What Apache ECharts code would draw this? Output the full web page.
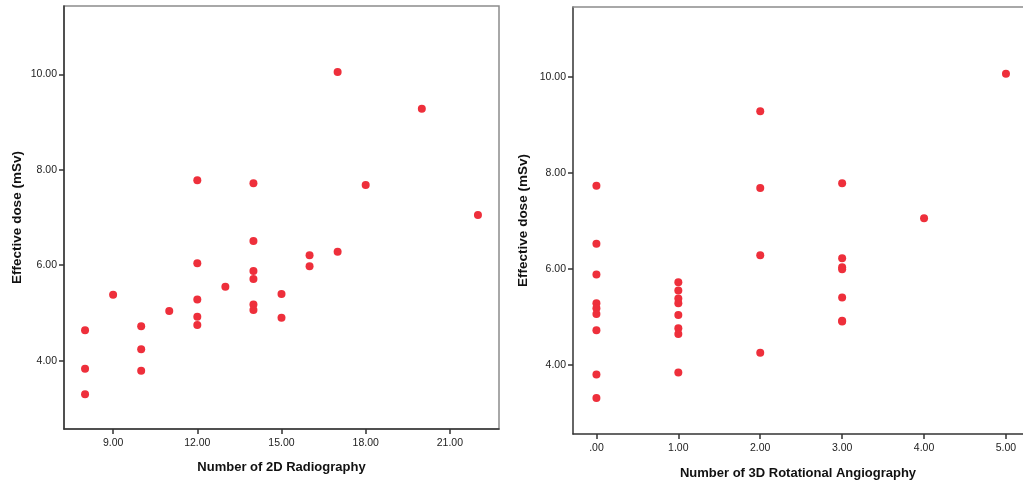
<!DOCTYPE html>
<html>
<head>
<meta charset="utf-8">
<script src="https://cdn.jsdelivr.net/npm/echarts@6/dist/echarts.min.js"></script>
<style>html,body{margin:0;padding:0;background:#fff;}#c{width:1023px;height:483px;}</style>
</head>
<body>
<div id="c"></div>
<script>
// Left panel: Number of 2D Radiography vs Effective dose
const radiography2D = [17,20,12,14,18,22,14,16,17,12,16,14,14,13,9,15,12,11,14,14,15,12,12,8,10,10,10,8,8];
const dose2D = [10.05,9.28,7.78,7.72,7.68,7.05,6.51,6.21,6.28,6.04,5.98,5.88,5.71,5.55,5.38,5.40,5.28,5.04,5.18,5.06,4.90,4.92,4.75,4.64,4.72,4.24,3.79,3.83,3.30];
// Right panel: Number of 3D Rotational Angiography vs Effective dose
const rotational3D = [0,0,0,0,0,0,0,0,0, 1,1,1,1,1,1,1,1, 2,2,2,2, 3,3,3,3,3,3,3, 4, 5];
const dose3D = [7.73,6.52,5.88,5.28,5.18,5.06,4.72,3.80,3.31, 5.72,5.55,5.38,5.28,5.04,4.76,4.64,3.84, 9.28,7.68,6.28,4.25, 7.78,6.22,6.03,5.99,5.40,4.92,4.90, 7.05, 10.06];
// Tick labels
const xTicks2D = [9,12,15,18,21];
const xTicks3D = [0,1,2,3,4,5];
const yTicks = [4,6,8,10];

const fmt = v => (v === 0 ? '.00' : Number(v).toFixed(2));
const FONT = 'Liberation Sans, Arial, sans-serif';
const RED = '#ee2f3b';

function xAxis(idx, min, max, ticks, name, gap) {
  return {
    type: 'value', gridIndex: idx, min: min, max: max,
    name: name, nameLocation: 'middle', nameGap: gap,
    nameTextStyle: {fontFamily: FONT, fontWeight: 'bold', fontSize: 13, color: '#111'},
    axisLine: {show: true, onZero: false, lineStyle: {color: '#333', width: 1.5}},
    axisTick: {show: true, length: 5, customValues: ticks, lineStyle: {color: '#333', width: 1.5}},
    axisLabel: {customValues: ticks, formatter: fmt, fontFamily: FONT, fontSize: 10.5, color: '#222', margin: 9},
    splitLine: {show: false}
  };
}
function topLine(idx, min, max) {
  return {
    type: 'value', gridIndex: idx, min: min, max: max, position: 'top',
    axisLine: {show: true, onZero: false, lineStyle: {color: '#8c8c8c', width: 1.5}},
    axisTick: {show: false}, axisLabel: {show: false}, splitLine: {show: false}
  };
}
function yAxis(idx, min, max, gap) {
  return {
    type: 'value', gridIndex: idx, min: min, max: max,
    name: 'Effective dose (mSv)', nameLocation: 'middle', nameGap: gap,
    nameTextStyle: {fontFamily: FONT, fontWeight: 'bold', fontSize: 13.5, color: '#111'},
    axisLine: {show: true, onZero: false, lineStyle: {color: '#333', width: 1.5}},
    axisTick: {show: true, length: 5, customValues: yTicks, lineStyle: {color: '#333', width: 1.5}},
    axisLabel: {customValues: yTicks, formatter: fmt, fontFamily: FONT, fontSize: 10.5, color: '#222', margin: 7},
    splitLine: {show: false}
  };
}

const chart = echarts.init(document.getElementById('c'), null, {renderer: 'canvas'});
chart.setOption({
  animation: false,
  backgroundColor: '#fff',
  grid: [
    {left: 64, top: 6, width: 435, height: 423, show: true, borderColor: '#8c8c8c', borderWidth: 1.5, containLabel: false, outerBoundsMode: 'none'},
    {left: 573, top: 7, right: 0, height: 427, show: false, containLabel: false, outerBoundsMode: 'none'}
  ],
  xAxis: [
    xAxis(0, 7.25, 22.75, xTicks2D, 'Number of 2D Radiography', 32),
    xAxis(1, -0.286, 5.208, xTicks3D, 'Number of 3D Rotational Angiography', 33),
    topLine(1, -0.286, 5.208)
  ],
  yAxis: [
    yAxis(0, 2.57, 11.43, 40),
    yAxis(1, 2.56, 11.45, 43)
  ],
  series: [
    {type: 'scatter', xAxisIndex: 0, yAxisIndex: 0, symbolSize: 8,
     itemStyle: {color: RED, opacity: 1}, data: radiography2D.map((x, i) => [x, dose2D[i]])},
    {type: 'scatter', xAxisIndex: 1, yAxisIndex: 1, symbolSize: 8,
     itemStyle: {color: RED, opacity: 1}, data: rotational3D.map((x, i) => [x, dose3D[i]])}
  ]
});
</script>
</body>
</html>
